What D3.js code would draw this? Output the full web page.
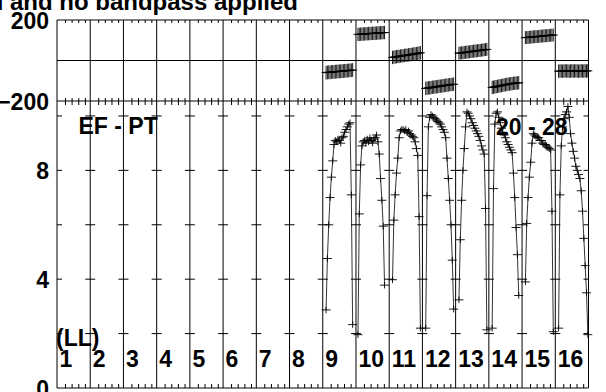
<!DOCTYPE html>
<html><head><meta charset="utf-8">
<script src="https://cdn.jsdelivr.net/npm/d3@7"></script>
<style>
html,body{margin:0;padding:0;background:#fff;}
svg{display:block;}
text{font-family:"Liberation Sans",Arial,Helvetica,sans-serif;font-weight:bold;fill:#000;}
</style></head><body>
<svg id="chart" width="606" height="392"></svg>
<script>
// ---------- data ----------
const ifNames = ["1","2","3","4","5","6","7","8","9","10","11","12","13","14","15","16"];
const chansPerIF = 25;
const ampTickValues = [2, 4, 6, 8, 10];
const ampLabelValues = [0, 4, 8];
const phaseLabelValues = [200, -200];
const titleText = "d and no bandpass applied";
const sourceText = "EF - PT";
const timeText = "20 - 28";
const polText = "(LL)";

const dataIFs   = [9, 10, 11, 12, 13, 14, 15, 16];
const startChan = [2, 1, 2, 2, 2, 2, 2, 2];

const amp09 = [2.87,4.76,6.0,7.0,7.75,8.35,8.95,9.1,9.05,9.15,9.1,9.0,9.2,9.25,9.4,9.5,9.6,9.7,9.75,7.1,2.33];
const amp10 = [1.96,6.4,8.2,8.9,9.05,9.1,9.0,9.15,9.05,9.2,9.1,9.0,9.15,9.2,9.3,9.05,8.6,7.7,6.9,5.95,3.78];
const amp11 = [3.98,6.17,7.1,7.9,8.45,9.2,9.45,9.5,9.5,9.45,9.5,9.4,9.45,9.35,9.3,9.25,9.2,9.05,8.8,8.55,6.3,2.2];
const amp12 = [2.2,7.07,9.6,9.95,10.05,10.0,9.95,9.9,9.85,9.8,9.75,9.7,9.6,9.5,9.4,9.2,8.45,7.7,6.9,6.0,4.7,2.9];
const amp13 = [3.24,5.45,6.9,8.0,8.8,9.6,10.15,10.1,10.0,9.9,9.75,9.65,9.55,9.45,9.35,9.25,9.1,8.9,8.75,8.6,6.6,2.14];
const amp14 = [2.2,7.33,9.7,10.1,10.15,9.95,9.75,9.55,9.4,9.3,9.2,9.05,8.95,8.85,8.75,8.65,7.9,7.0,5.9,4.9,3.4];
const amp15 = [3.9,6.05,7.0,7.75,8.3,9.0,9.35,9.3,9.25,9.2,9.2,9.1,9.1,9.0,8.95,8.95,8.9,8.85,8.8,8.75,6.5,2.07];
const amp16 = [2.2,7.1,8.9,9.6,9.9,10.05,10.15,10.35,9.95,9.35,9.0,8.7,8.45,8.15,8.0,7.85,7.7,7.25,6.5,5.5,4.5,3.5,1.96];

const phs09 = [-60,-59,-58,-59,-57,-56,-57,-55,-55,-54,-54,-53,-53,-52,-51,-51,-50,-49,-49,-48,-47];
const phs10 = [129,129,130,130,131,131,132,132,133,133,134,134,134,135,135,136,136,137,137,138,138];
const phs11 = [15,17,17,19,20,20,22,23,23,25,26,26,28,29,29,31,32,33,34,35,37,38];
const phs12 = [-138,-137,-135,-135,-134,-132,-132,-130,-130,-129,-127,-127,-126,-124,-124,-122,-122,-121,-119,-119,-118,-117];
const phs13 = [36,37,38,38,40,40,42,42,43,44,45,46,47,47,49,49,50,51,52,53,54,55];
const phs14 = [-133,-132,-130,-129,-128,-126,-125,-124,-122,-121,-120,-118,-117,-116,-115,-114,-113,-112,-111,-111,-110];
const phs15 = [113,113,114,115,115,116,117,117,118,118,119,120,120,121,122,122,123,123,124,125,125,126];
const phs16 = [-53,-52,-52,-53,-52,-51,-52,-52,-53,-52,-51,-52,-52,-51,-52,-53,-52,-51,-52,-52,-51,-52,-51];

const phaseErr = [34, 33, 33, 33, 32, 33, 32, 33];
const ampErr   = [0.12, 0.12, 0.12, 0.12, 0.12, 0.12, 0.12, 0.12];

const ampSeries = [amp09, amp10, amp11, amp12, amp13, amp14, amp15, amp16];
const phsSeries = [phs09, phs10, phs11, phs12, phs13, phs14, phs15, phs16];

// ---------- layout ----------
const L = 57, R = 588.5, T = 20, M = 101, B = 388;
const svg = d3.select("#chart");
svg.append("rect").attr("width", 606).attr("height", 392).attr("fill", "#fff");

const nIF = ifNames.length;
const x = d3.scaleLinear().domain([0, nIF * chansPerIF]).range([L, R]);
const yP = d3.scaleLinear().domain([-200, 200]).range([M, T]);
const yA = d3.scaleLinear().domain([0, 10.55]).range([B, M]);

const ink = "#000";
const g = svg.append("g");

// minor channel ticks
const minorTicks = [];
for (let k = 0; k < nIF; k++) for (let j = 1; j <= 4; j++) minorTicks.push(k * chansPerIF + 5 * j + 1);

function tickAxis(axisFn, size, yPos) {
  const ax = axisFn(x).tickValues(minorTicks).tickSize(size).tickSizeOuter(0).tickFormat("");
  const gg = g.append("g").attr("transform", `translate(0,${yPos})`).call(ax);
  gg.select(".domain").remove();
  gg.selectAll(".tick line").attr("stroke", ink).attr("stroke-width", 1);
}
tickAxis(d3.axisBottom, 3, T);
tickAxis(d3.axisBottom, 4, M);
tickAxis(d3.axisTop, 3, M);
tickAxis(d3.axisTop, 4, B);

// IF boundary lines
const bounds = d3.range(0, nIF + 1).map(k => k * chansPerIF);
g.selectAll("line.vb").data(bounds).join("line")
  .attr("x1", d => x(d)).attr("x2", d => x(d)).attr("y1", T).attr("y2", B)
  .attr("stroke", ink).attr("stroke-width", 1);

// horizontal frame lines
[T, M, B].forEach(yy => g.append("line").attr("x1", L).attr("x2", R).attr("y1", yy).attr("y2", yy).attr("stroke", ink).attr("stroke-width", 1));
g.append("line").attr("x1", L).attr("x2", R).attr("y1", yP(0)).attr("y2", yP(0)).attr("stroke", ink).attr("stroke-width", 1);

// amplitude tick crosses on each boundary
const crossTicks = [];
bounds.forEach((b, i) => ampTickValues.forEach(v => crossTicks.push({b, v, i})));
g.selectAll("line.ht").data(crossTicks).join("line")
  .attr("x1", d => d.i === 0 ? x(d.b) : x(d.b) - 5)
  .attr("x2", d => d.i === bounds.length - 1 ? x(d.b) : x(d.b) + 5)
  .attr("y1", d => yA(d.v)).attr("y2", d => yA(d.v))
  .attr("stroke", ink).attr("stroke-width", 1);

// y labels
const fs = 23;
const axA = d3.axisLeft(yA).tickValues(ampLabelValues).tickSize(0).tickPadding(8).tickFormat(d3.format("d"));
const gA = g.append("g").attr("transform", `translate(${L},0)`).call(axA);
gA.select(".domain").remove();
gA.selectAll("text").attr("font-size", fs).attr("font-family", "Liberation Sans, Arial, sans-serif").attr("font-weight", "bold").attr("dy", "0.36em").attr("fill", ink);
const axP = d3.axisLeft(yP).tickValues(phaseLabelValues).tickSize(0).tickPadding(8).tickFormat(d3.format("d"));
const gP = g.append("g").attr("transform", `translate(${L},0)`).call(axP);
gP.select(".domain").remove();
gP.selectAll("text").attr("font-size", fs).attr("font-family", "Liberation Sans, Arial, sans-serif").attr("font-weight", "bold").attr("dy", "0.36em").attr("fill", ink);

// data
const dataG = svg.append("g");
dataIFs.forEach((ifn, s) => {
  const pts = ampSeries[s].map((a, i) => ({
    ch: (ifn - 1) * chansPerIF + startChan[s] + i + 0.5,
    amp: a, phs: phsSeries[s][i]
  }));
  const lineA = d3.line().x(d => x(d.ch)).y(d => yA(d.amp));
  const lineP = d3.line().x(d => x(d.ch)).y(d => yP(d.phs));
  dataG.append("path").attr("d", lineA(pts)).attr("fill", "none").attr("stroke", ink).attr("stroke-width", 0.8);
  dataG.append("path").attr("d", lineP(pts)).attr("fill", "none").attr("stroke", ink).attr("stroke-width", 0.8);
  const gg = dataG.append("g").attr("stroke", ink).attr("stroke-width", 0.9);
  pts.forEach(d => {
    const px = x(d.ch);
    gg.append("line").attr("x1", px - 4.5).attr("x2", px + 4.5).attr("y1", yA(d.amp)).attr("y2", yA(d.amp));
    gg.append("line").attr("x1", px).attr("x2", px).attr("y1", yA(d.amp - ampErr[s])).attr("y2", yA(d.amp + ampErr[s]));
    gg.append("line").attr("x1", px - 4.5).attr("x2", px + 4.5).attr("y1", yP(d.phs)).attr("y2", yP(d.phs));
    gg.append("line").attr("x1", px).attr("x2", px).attr("y1", yP(d.phs - phaseErr[s])).attr("y2", yP(d.phs + phaseErr[s]));
  });
});

// texts
const tg = svg.append("g").attr("font-weight", "bold");
tg.append("text").attr("x", 298).attr("y", 9.5).attr("text-anchor", "end").attr("font-size", 24).text(titleText);
tg.append("text").attr("x", 78.5).attr("y", 134).attr("font-size", fs).text(sourceText);
tg.append("text").attr("x", 496).attr("y", 135).attr("font-size", fs).text(timeText);
tg.append("text").attr("x", 56).attr("y", 346).attr("font-size", fs).text(polText);
tg.selectAll("text.ifl").data(ifNames).join("text")
  .attr("x", (d, i) => x(i * chansPerIF) + 2.5).attr("y", 366.5)
  .attr("font-size", fs).text(d => d);
</script>
</body></html>
